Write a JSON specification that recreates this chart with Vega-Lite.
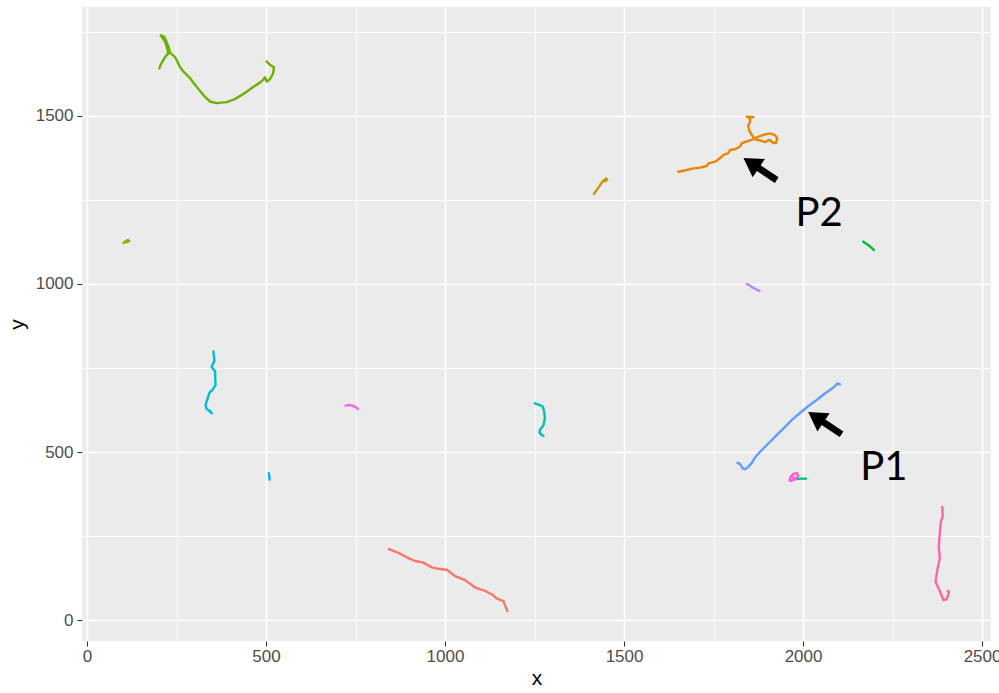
{
  "$schema": "https://vega.github.io/schema/vega-lite/v6.json",
  "width": 909,
  "height": 634,
  "autosize": {"type": "none"},
  "padding": {"left": 82, "top": 7, "right": 8, "bottom": 52},
  "background": "white",
  "view": {"fill": "#EBEBEB", "stroke": null},
  "datasets": {
    "tracks": [
      {"track": "t01", "i": 1, "x": 843, "y": 211}, {"track": "t01", "i": 2, "x": 870, "y": 200}, {"track": "t01", "i": 3, "x": 893, "y": 187}, {"track": "t01", "i": 4, "x": 916, "y": 176}, {"track": "t01", "i": 5, "x": 939, "y": 171}, {"track": "t01", "i": 6, "x": 963, "y": 157}, {"track": "t01", "i": 7, "x": 986, "y": 152}, {"track": "t01", "i": 8, "x": 1005, "y": 150}, {"track": "t01", "i": 9, "x": 1028, "y": 131}, {"track": "t01", "i": 10, "x": 1056, "y": 119}, {"track": "t01", "i": 11, "x": 1084, "y": 97}, {"track": "t01", "i": 12, "x": 1112, "y": 87}, {"track": "t01", "i": 13, "x": 1135, "y": 74}, {"track": "t01", "i": 14, "x": 1144, "y": 65}, {"track": "t01", "i": 15, "x": 1163, "y": 57}, {"track": "t01", "i": 16, "x": 1174, "y": 27},

      {"track": "t02", "i": 1, "x": 1652, "y": 1334}, {"track": "t02", "i": 2, "x": 1675, "y": 1339}, {"track": "t02", "i": 3, "x": 1694, "y": 1344}, {"track": "t02", "i": 4, "x": 1712, "y": 1346}, {"track": "t02", "i": 5, "x": 1731, "y": 1351}, {"track": "t02", "i": 6, "x": 1736, "y": 1359}, {"track": "t02", "i": 7, "x": 1754, "y": 1364}, {"track": "t02", "i": 8, "x": 1768, "y": 1374}, {"track": "t02", "i": 9, "x": 1778, "y": 1384}, {"track": "t02", "i": 10, "x": 1791, "y": 1389}, {"track": "t02", "i": 11, "x": 1796, "y": 1399}, {"track": "t02", "i": 12, "x": 1810, "y": 1401}, {"track": "t02", "i": 13, "x": 1824, "y": 1409}, {"track": "t02", "i": 14, "x": 1829, "y": 1419}, {"track": "t02", "i": 15, "x": 1843, "y": 1424}, {"track": "t02", "i": 16, "x": 1857, "y": 1429}, {"track": "t02", "i": 17, "x": 1866, "y": 1434}, {"track": "t02", "i": 18, "x": 1880, "y": 1440}, {"track": "t02", "i": 19, "x": 1894, "y": 1445}, {"track": "t02", "i": 20, "x": 1908, "y": 1448}, {"track": "t02", "i": 21, "x": 1922, "y": 1443}, {"track": "t02", "i": 22, "x": 1928, "y": 1433}, {"track": "t02", "i": 23, "x": 1924, "y": 1419}, {"track": "t02", "i": 24, "x": 1915, "y": 1421}, {"track": "t02", "i": 25, "x": 1906, "y": 1429}, {"track": "t02", "i": 26, "x": 1894, "y": 1422}, {"track": "t02", "i": 27, "x": 1880, "y": 1427}, {"track": "t02", "i": 28, "x": 1866, "y": 1430}, {"track": "t02", "i": 29, "x": 1857, "y": 1443}, {"track": "t02", "i": 30, "x": 1850, "y": 1456}, {"track": "t02", "i": 31, "x": 1847, "y": 1470}, {"track": "t02", "i": 32, "x": 1852, "y": 1483}, {"track": "t02", "i": 33, "x": 1852, "y": 1493}, {"track": "t02", "i": 34, "x": 1843, "y": 1498}, {"track": "t02", "i": 35, "x": 1861, "y": 1496},

      {"track": "t03", "i": 1, "x": 1416, "y": 1268}, {"track": "t03", "i": 2, "x": 1424, "y": 1280}, {"track": "t03", "i": 3, "x": 1432, "y": 1292}, {"track": "t03", "i": 4, "x": 1438, "y": 1302}, {"track": "t03", "i": 5, "x": 1444, "y": 1309}, {"track": "t03", "i": 6, "x": 1450, "y": 1314}, {"track": "t03", "i": 7, "x": 1453, "y": 1310}, {"track": "t03", "i": 8, "x": 1447, "y": 1306},

      {"track": "t04", "i": 1, "x": 102, "y": 1122}, {"track": "t04", "i": 2, "x": 108, "y": 1127}, {"track": "t04", "i": 3, "x": 114, "y": 1131}, {"track": "t04", "i": 4, "x": 118, "y": 1128}, {"track": "t04", "i": 5, "x": 110, "y": 1124},

      {"track": "t05", "i": 1, "x": 202, "y": 1642}, {"track": "t05", "i": 2, "x": 208, "y": 1657}, {"track": "t05", "i": 3, "x": 218, "y": 1675}, {"track": "t05", "i": 4, "x": 227, "y": 1686}, {"track": "t05", "i": 5, "x": 224, "y": 1701}, {"track": "t05", "i": 6, "x": 218, "y": 1721}, {"track": "t05", "i": 7, "x": 208, "y": 1736}, {"track": "t05", "i": 8, "x": 206, "y": 1740}, {"track": "t05", "i": 9, "x": 215, "y": 1736}, {"track": "t05", "i": 10, "x": 222, "y": 1721}, {"track": "t05", "i": 11, "x": 229, "y": 1701}, {"track": "t05", "i": 12, "x": 232, "y": 1688}, {"track": "t05", "i": 13, "x": 246, "y": 1675}, {"track": "t05", "i": 14, "x": 260, "y": 1645}, {"track": "t05", "i": 15, "x": 271, "y": 1630}, {"track": "t05", "i": 16, "x": 288, "y": 1612}, {"track": "t05", "i": 17, "x": 306, "y": 1587}, {"track": "t05", "i": 18, "x": 325, "y": 1562}, {"track": "t05", "i": 19, "x": 343, "y": 1543}, {"track": "t05", "i": 20, "x": 362, "y": 1538}, {"track": "t05", "i": 21, "x": 390, "y": 1541}, {"track": "t05", "i": 22, "x": 413, "y": 1550}, {"track": "t05", "i": 23, "x": 432, "y": 1562}, {"track": "t05", "i": 24, "x": 446, "y": 1572}, {"track": "t05", "i": 25, "x": 465, "y": 1587}, {"track": "t05", "i": 26, "x": 483, "y": 1599}, {"track": "t05", "i": 27, "x": 492, "y": 1607}, {"track": "t05", "i": 28, "x": 497, "y": 1615}, {"track": "t05", "i": 29, "x": 502, "y": 1602}, {"track": "t05", "i": 30, "x": 511, "y": 1609}, {"track": "t05", "i": 31, "x": 520, "y": 1627}, {"track": "t05", "i": 32, "x": 522, "y": 1645}, {"track": "t05", "i": 33, "x": 511, "y": 1652}, {"track": "t05", "i": 34, "x": 502, "y": 1662},

      {"track": "t06", "i": 1, "x": 2168, "y": 1126}, {"track": "t06", "i": 2, "x": 2177, "y": 1120}, {"track": "t06", "i": 3, "x": 2186, "y": 1113}, {"track": "t06", "i": 4, "x": 2193, "y": 1106}, {"track": "t06", "i": 5, "x": 2198, "y": 1101},

      {"track": "t07", "i": 1, "x": 1984, "y": 420}, {"track": "t07", "i": 2, "x": 1995, "y": 421}, {"track": "t07", "i": 3, "x": 2008, "y": 421},

      {"track": "t08", "i": 1, "x": 1251, "y": 645}, {"track": "t08", "i": 2, "x": 1265, "y": 640}, {"track": "t08", "i": 3, "x": 1273, "y": 635}, {"track": "t08", "i": 4, "x": 1277, "y": 620}, {"track": "t08", "i": 5, "x": 1279, "y": 600}, {"track": "t08", "i": 6, "x": 1275, "y": 580}, {"track": "t08", "i": 7, "x": 1265, "y": 566}, {"track": "t08", "i": 8, "x": 1264, "y": 558}, {"track": "t08", "i": 9, "x": 1270, "y": 551}, {"track": "t08", "i": 10, "x": 1275, "y": 548},

      {"track": "t09", "i": 1, "x": 353, "y": 799}, {"track": "t09", "i": 2, "x": 356, "y": 772}, {"track": "t09", "i": 3, "x": 348, "y": 754}, {"track": "t09", "i": 4, "x": 358, "y": 739}, {"track": "t09", "i": 5, "x": 358, "y": 719}, {"track": "t09", "i": 6, "x": 359, "y": 699}, {"track": "t09", "i": 7, "x": 351, "y": 686}, {"track": "t09", "i": 8, "x": 342, "y": 677}, {"track": "t09", "i": 9, "x": 336, "y": 657}, {"track": "t09", "i": 10, "x": 331, "y": 640}, {"track": "t09", "i": 11, "x": 334, "y": 628}, {"track": "t09", "i": 12, "x": 344, "y": 622}, {"track": "t09", "i": 13, "x": 349, "y": 615}, {"track": "t09", "i": 14, "x": 339, "y": 625},

      {"track": "t10", "i": 1, "x": 508, "y": 437}, {"track": "t10", "i": 2, "x": 509, "y": 428}, {"track": "t10", "i": 3, "x": 510, "y": 418},

      {"track": "t11", "i": 1, "x": 1817, "y": 468}, {"track": "t11", "i": 2, "x": 1824, "y": 464}, {"track": "t11", "i": 3, "x": 1832, "y": 451}, {"track": "t11", "i": 4, "x": 1838, "y": 449}, {"track": "t11", "i": 5, "x": 1847, "y": 456}, {"track": "t11", "i": 6, "x": 1857, "y": 468}, {"track": "t11", "i": 7, "x": 1866, "y": 484}, {"track": "t11", "i": 8, "x": 1880, "y": 501}, {"track": "t11", "i": 9, "x": 1899, "y": 521}, {"track": "t11", "i": 10, "x": 1922, "y": 546}, {"track": "t11", "i": 11, "x": 1945, "y": 570}, {"track": "t11", "i": 12, "x": 1968, "y": 595}, {"track": "t11", "i": 13, "x": 1992, "y": 617}, {"track": "t11", "i": 14, "x": 2015, "y": 637}, {"track": "t11", "i": 15, "x": 2038, "y": 655}, {"track": "t11", "i": 16, "x": 2062, "y": 675}, {"track": "t11", "i": 17, "x": 2085, "y": 692}, {"track": "t11", "i": 18, "x": 2096, "y": 704}, {"track": "t11", "i": 19, "x": 2103, "y": 702},

      {"track": "t12", "i": 1, "x": 1843, "y": 1000}, {"track": "t12", "i": 2, "x": 1851, "y": 996}, {"track": "t12", "i": 3, "x": 1858, "y": 990}, {"track": "t12", "i": 4, "x": 1866, "y": 986}, {"track": "t12", "i": 5, "x": 1873, "y": 982}, {"track": "t12", "i": 6, "x": 1878, "y": 979},

      {"track": "t13", "i": 1, "x": 722, "y": 638}, {"track": "t13", "i": 2, "x": 733, "y": 640}, {"track": "t13", "i": 3, "x": 742, "y": 638}, {"track": "t13", "i": 4, "x": 748, "y": 635}, {"track": "t13", "i": 5, "x": 754, "y": 631}, {"track": "t13", "i": 6, "x": 757, "y": 628},

      {"track": "t14", "i": 1, "x": 1962, "y": 416}, {"track": "t14", "i": 2, "x": 1966, "y": 428}, {"track": "t14", "i": 3, "x": 1974, "y": 436}, {"track": "t14", "i": 4, "x": 1984, "y": 437}, {"track": "t14", "i": 5, "x": 1986, "y": 428}, {"track": "t14", "i": 6, "x": 1978, "y": 419}, {"track": "t14", "i": 7, "x": 1966, "y": 414}, {"track": "t14", "i": 8, "x": 1980, "y": 422}, {"track": "t14", "i": 9, "x": 1970, "y": 425},

      {"track": "t15", "i": 1, "x": 2389, "y": 337}, {"track": "t15", "i": 2, "x": 2390, "y": 308}, {"track": "t15", "i": 3, "x": 2385, "y": 293}, {"track": "t15", "i": 4, "x": 2382, "y": 258}, {"track": "t15", "i": 5, "x": 2379, "y": 218}, {"track": "t15", "i": 6, "x": 2382, "y": 184}, {"track": "t15", "i": 7, "x": 2375, "y": 149}, {"track": "t15", "i": 8, "x": 2370, "y": 114}, {"track": "t15", "i": 9, "x": 2381, "y": 89}, {"track": "t15", "i": 10, "x": 2392, "y": 60}, {"track": "t15", "i": 11, "x": 2401, "y": 62}, {"track": "t15", "i": 12, "x": 2408, "y": 84}, {"track": "t15", "i": 13, "x": 2404, "y": 87}
    ],
    "arrows": [
      {"name": "P2", "x": 1880, "y": 1342},
      {"name": "P1", "x": 2061, "y": 586}
    ],
    "labels": [
      {"label": "P2", "x": 2045, "y": 1173},
      {"label": "P1", "x": 2226, "y": 417}
    ]
  },
  "layer": [
    {
      "data": {"name": "tracks"},
      "mark": {"type": "line", "strokeWidth": 2.4, "strokeCap": "round", "strokeJoin": "round"},
      "encoding": {
        "x": {
          "field": "x", "type": "quantitative",
          "scale": {"domain": [-14, 2525], "nice": false, "zero": false},
          "axis": {
            "orient": "bottom", "values": [0, 500, 1000, 1500, 2000, 2500], "format": "d", "title": "x",
            "grid": true, "gridColor": "white", "gridWidth": 1.7, "gridOpacity": 1,
            "domain": false, "ticks": true, "tickColor": "#333333", "tickWidth": 1.1, "tickSize": 5,
            "labelColor": "#4D4D4D", "labelFont": "Liberation Sans", "labelFontSize": 17, "labelPadding": 2,
            "labelFlush": false, "labelOverlap": false, "labelBound": false,
            "titleFont": "Liberation Sans", "titleFontSize": 21, "titleFontWeight": "normal", "titleColor": "black", "titlePadding": 3
          }
        },
        "y": {
          "field": "y", "type": "quantitative",
          "scale": {"domain": [-62, 1824], "nice": false, "zero": false},
          "axis": {
            "orient": "left", "values": [0, 500, 1000, 1500], "format": "d", "title": "y",
            "grid": true, "gridColor": "white", "gridWidth": 1.7, "gridOpacity": 1,
            "domain": false, "ticks": true, "tickColor": "#333333", "tickWidth": 1.1, "tickSize": 5,
            "labelColor": "#4D4D4D", "labelFont": "Liberation Sans", "labelFontSize": 17, "labelPadding": 4,
            "labelFlush": false, "labelOverlap": false, "labelBound": false,
            "titleFont": "Liberation Sans", "titleFontSize": 21, "titleFontWeight": "normal", "titleColor": "black", "titlePadding": 8
          }
        },
        "color": {
          "field": "track", "type": "nominal", "legend": null,
          "scale": {
            "domain": ["t01", "t02", "t03", "t04", "t05", "t06", "t07", "t08", "t09", "t10", "t11", "t12", "t13", "t14", "t15"],
            "range": ["#F8766D", "#E58700", "#C99800", "#A3A500", "#6BB100", "#00BA38", "#00BF7D", "#00C0AF", "#00BCD8", "#00B0F6", "#619CFF", "#B983FF", "#E76BF3", "#FD61D1", "#FF67A4"]
          }
        },
        "order": {"field": "i", "type": "quantitative"}
      }
    },
    {
      "data": {"name": "arrows"},
      "mark": {"type": "point", "shape": "M1,0L0.08,-0.55L0.08,-0.17L-1,-0.17L-1,0.17L0.08,0.17L0.08,0.55Z", "filled": true, "color": "black", "opacity": 1, "size": 1600, "angle": 213.7, "strokeWidth": 0},
      "encoding": {
        "x": {
          "field": "x", "type": "quantitative",
          "scale": {"domain": [-14, 2525], "nice": false, "zero": false},
          "axis": {"orient": "bottom", "values": [250, 750, 1250, 1750, 2250], "grid": true, "gridColor": "white", "gridWidth": 0.9, "gridOpacity": 1, "labels": false, "ticks": false, "domain": false, "title": null}
        },
        "y": {
          "field": "y", "type": "quantitative",
          "scale": {"domain": [-62, 1824], "nice": false, "zero": false},
          "axis": {"orient": "left", "values": [250, 750, 1250, 1750], "grid": true, "gridColor": "white", "gridWidth": 0.9, "gridOpacity": 1, "labels": false, "ticks": false, "domain": false, "title": null}
        }
      }
    },
    {
      "data": {"name": "labels"},
      "mark": {"type": "text", "font": "Lato", "fontSize": 40, "align": "center", "baseline": "alphabetic", "color": "black"},
      "encoding": {
        "x": {"field": "x", "type": "quantitative", "scale": {"domain": [-14, 2525], "nice": false, "zero": false}, "axis": null},
        "y": {"field": "y", "type": "quantitative", "scale": {"domain": [-62, 1824], "nice": false, "zero": false}, "axis": null},
        "text": {"field": "label", "type": "nominal"}
      }
    }
  ],
  "resolve": {"axis": {"x": "independent", "y": "independent"}}
}
